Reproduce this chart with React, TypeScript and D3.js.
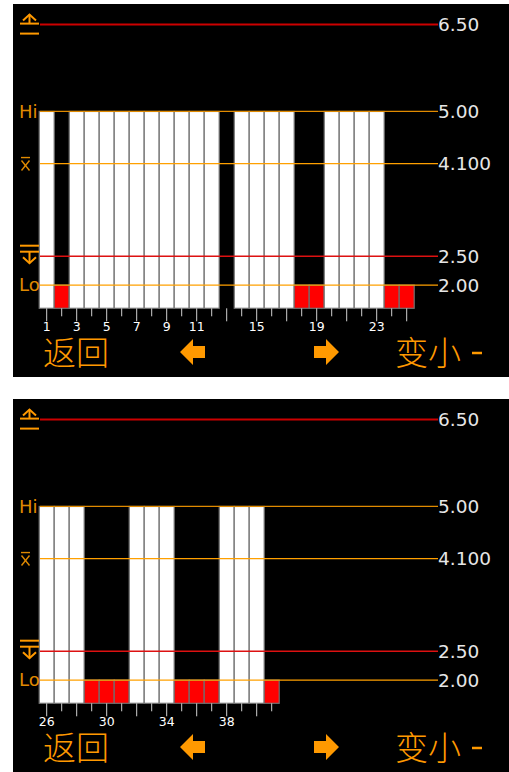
import React from "react";
import * as d3 from "d3";

// ---- data ----
const topIndices = d3.range(1, 26);
const topValues: (number | null)[] = [5, 2, 5, 5, 5, 5, 5, 5, 5, 5, 5, 5, null, 5, 5, 5, 5, 2, 2, 5, 5, 5, 5, 2, 2];
const topTickLabels = [1, 3, 5, 7, 9, 11, 15, 19, 23];

const bottomIndices = d3.range(26, 42);
const bottomValues: (number | null)[] = [5, 5, 5, 2, 2, 2, 5, 5, 5, 2, 2, 2, 5, 5, 5, 2];
const bottomTickLabels = [26, 30, 34, 38];

const upperLimit = 6.5;
const hiLimit = 5.0;
const meanValue = 4.1;
const lowerLimit = 2.5;
const loLimit = 2.0;
const axisMin = 1.6;
const refLabels = ["6.50", "5.00", "4.100", "2.50", "2.00"];
const sideLabels = ["Hi", "Lo"];
const footerLeft = "返回";
const footerRight = "变小";

const ORANGE = "#FF9900";
const ORANGE_DARK = "#E08A00";
const RED_LINE = "#CC0000";
const RED_BAR = "#FF0000";

type PanelProps = {
  oy: number;
  indices: number[];
  values: (number | null)[];
  tickLabels: number[];
};

function Panel({ oy, indices, values, tickLabels }: PanelProps) {
  const y = d3.scaleLinear().domain([axisMin, upperLimit]).range([oy + 304.3, oy + 20.6]);
  const slot = 15;
  const x = d3
    .scaleBand<number>()
    .domain(indices)
    .range([39.2, 39.2 + indices.length * slot])
    .paddingInner(0);
  const bw = x.bandwidth();
  const base = y(axisMin);
  const lineX0 = 40;
  const lineX1 = 438;

  const refs = [
    { v: upperLimit, color: RED_LINE, w: 2, label: refLabels[0] },
    { v: hiLimit, color: ORANGE_DARK, w: 1.2, label: refLabels[1] },
    { v: meanValue, color: "#FFA000", w: 1.2, label: refLabels[2] },
    { v: lowerLimit, color: "#DD1111", w: 1.5, label: refLabels[3] },
    { v: loLimit, color: "#FFA000", w: 1.2, label: refLabels[4] },
  ];

  const yU = y(upperLimit);
  const yL = y(lowerLimit);
  const yM = y(meanValue);

  return (
    <g>
      <rect x={13} y={oy} width={496} height={373} fill="#000" />
      {/* bars */}
      {values.map((v, i) => {
        if (v == null) return null;
        const idx = indices[i];
        const top = y(v);
        return (
          <rect
            key={idx}
            x={x(idx)!}
            y={top}
            width={bw}
            height={base - top}
            fill={v <= loLimit ? RED_BAR : "#FFFFFF"}
            stroke="#707070"
            strokeWidth={1.2}
          />
        );
      })}
      {/* reference lines */}
      {refs.map((r, i) => (
        <g key={i}>
          <line x1={lineX0} x2={lineX1} y1={y(r.v)} y2={y(r.v)} stroke={r.color} strokeWidth={r.w} />
          <text
            x={lineX1}
            y={y(r.v) + 6.6}
            fill="#E6E6E6"
            fontFamily="'DejaVu Sans', sans-serif"
            fontSize={18.5}
          >
            {r.label}
          </text>
        </g>
      ))}
      {/* ticks */}
      {indices.map((idx, i) => {
        const cx = x(idx)! + bw / 2;
        const long = i % 2 === 0;
        return (
          <line key={idx} x1={cx} x2={cx} y1={base} y2={base + (long ? 13 : 8)} stroke="#D0D0D0" strokeWidth={1} />
        );
      })}
      {tickLabels.map((t) => (
        <text
          key={t}
          x={x(t)! + bw / 2}
          y={base + 23}
          fill="#FFFFFF"
          textAnchor="middle"
          fontFamily="'DejaVu Sans', sans-serif"
          fontSize={12.5}
        >
          {t}
        </text>
      ))}
      {/* side labels */}
      <text x={19} y={y(hiLimit) + 6.5} fill={ORANGE_DARK} fontFamily="'DejaVu Sans', sans-serif" fontSize={18}>
        {sideLabels[0]}
      </text>
      <text x={19} y={y(loLimit) + 5.5} fill={ORANGE_DARK} fontFamily="'DejaVu Sans', sans-serif" fontSize={18}>
        {sideLabels[1]}
      </text>
      {/* x-bar symbol */}
      <g stroke={ORANGE_DARK} strokeWidth={1.4} fill="none">
        <line x1={21} x2={30} y1={yM - 6} y2={yM - 6} />
        <line x1={21.5} x2={29.5} y1={yM - 3} y2={yM + 7} />
        <line x1={29.5} x2={21.5} y1={yM - 3} y2={yM + 7} />
      </g>
      {/* upper limit icon */}
      <g stroke={ORANGE} strokeWidth={2} fill="none">
        <polyline points={`${23},${yU - 4} ${29.5},${yU - 10} ${36},${yU - 4}`} />
        <line x1={29.5} x2={29.5} y1={yU - 10} y2={yU - 1} />
        <line x1={20} x2={39} y1={yU - 1} y2={yU - 1} />
        <line x1={20} x2={39} y1={yU + 9} y2={yU + 9} />
      </g>
      {/* lower limit icon */}
      <g stroke={ORANGE} strokeWidth={2} fill="none">
        <line x1={20} x2={39} y1={yL - 10.5} y2={yL - 10.5} />
        <line x1={20} x2={39} y1={yL - 4.5} y2={yL - 4.5} />
        <line x1={29.5} x2={29.5} y1={yL - 4.5} y2={yL + 7} />
        <polyline points={`${23},${yL + 1} ${29.5},${yL + 7} ${36},${yL + 1}`} />
      </g>
      {/* footer */}
      <text x={43} y={oy + 361} fill={ORANGE} fontFamily="'Noto Sans CJK SC', sans-serif" fontSize={33} fontWeight={300}>
        {footerLeft}
      </text>
      <polygon
        points={`180,${oy + 348} 193,${oy + 335} 193,${oy + 342} 205,${oy + 342} 205,${oy + 354} 193,${oy + 354} 193,${oy + 361}`}
        fill={ORANGE}
      />
      <polygon
        points={`339,${oy + 348} 326,${oy + 335} 326,${oy + 342} 314,${oy + 342} 314,${oy + 354} 326,${oy + 354} 326,${oy + 361}`}
        fill={ORANGE}
      />
      <text x={395} y={oy + 361} fill={ORANGE} fontFamily="'Noto Sans CJK SC', sans-serif" fontSize={33} fontWeight={300}>
        {footerRight}
      </text>
      <line x1={472} x2={482} y1={oy + 349} y2={oy + 349} stroke={ORANGE} strokeWidth={2.5} />
    </g>
  );
}

export default function App() {
  return (
    <svg
      width={509}
      height={772}
      style={{ position: "absolute", left: 0, top: 0, background: "#fff" }}
    >
      <Panel oy={4} indices={topIndices} values={topValues} tickLabels={topTickLabels} />
      <Panel oy={399} indices={bottomIndices} values={bottomValues} tickLabels={bottomTickLabels} />
    </svg>
  );
}
